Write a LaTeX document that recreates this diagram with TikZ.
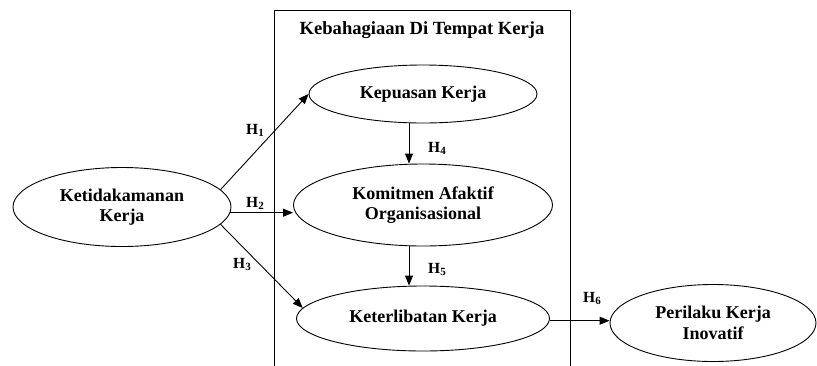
\documentclass[tikz,border=0pt]{standalone}
\usepackage{fontspec}
\setmainfont{Liberation Serif}
\usetikzlibrary{arrows.meta,shapes.geometric}
\newcommand{\hyp}[1]{H\raisebox{-2.5pt}{\fontsize{11}{11}\selectfont #1}}
\begin{document}
\begin{tikzpicture}[x=1pt,y=-1pt,
  var/.style={draw,ellipse,line width=0.9pt,inner sep=0pt,align=center,
    font=\bfseries\fontsize{18}{20.5}\selectfont},
  conn/.style={line width=0.9pt,-{Triangle[length=10pt,width=8pt]}},
  hlab/.style={anchor=base west,inner sep=0pt,font=\bfseries\fontsize{15.5}{15.5}\selectfont}]
\useasboundingbox (0,0) rectangle (817,365);
% box
\coordinate (bl) at (274,366);
\coordinate (tl) at (274,10);
\coordinate (tr) at (570,10);
\coordinate (br) at (570,366);
\draw[line width=0.9pt] (bl) -- (tl) -- (tr) -- (br);
\node[inner sep=0pt,font=\bfseries\fontsize{18.6}{20}\selectfont] (title) at (422,30) {Kebahagiaan Di Tempat Kerja};
% variables
\node[var,minimum width=218pt,minimum height=79pt] (keti) at (122,207) {Ketidakamanan\\Kerja};
\node[var,minimum width=228pt,minimum height=58pt] (kep) at (423,94) {Kepuasan Kerja};
\node[var,minimum width=259pt,minimum height=82pt] (kom) at (423,205) {Komitmen Afaktif\\Organisasional};
\node[var,minimum width=253pt,minimum height=65pt] (ket) at (423,318.5) {Keterlibatan Kerja};
\node[var,minimum width=206pt,minimum height=77pt] (per) at (713,323) {Perilaku Kerja\\Inovatif};
% connectors
\draw[conn] (keti.10) -- (kep.west);
\draw[conn] (keti.-3) -- (kom.west |- keti.-3);
\draw[conn] (keti.-10) -- (ket.175);
\draw[conn] ([xshift=-14pt]kep.south) -- ([xshift=-14pt]kom.north);
\draw[conn] ([xshift=-14pt]kom.south) -- ([xshift=-14pt]ket.north);
\draw[conn] (ket.-1.5) -- (per.west |- ket.-1.5);
% labels
\node[hlab] (h1) at (246,134) {\hyp{1}};
\node[hlab] (h2) at (246,207) {\hyp{2}};
\node[hlab] (h3) at (233,268) {\hyp{3}};
\node[hlab] (h4) at (428,152) {\hyp{4}};
\node[hlab] (h5) at (428,273) {\hyp{5}};
\node[hlab] (h6) at (583,302) {\hyp{6}};
\end{tikzpicture}
\end{document}
